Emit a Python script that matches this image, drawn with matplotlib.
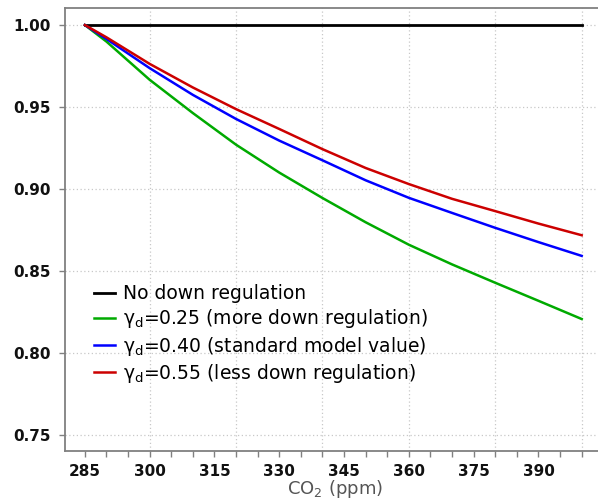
import matplotlib
matplotlib.use("Agg")
import matplotlib.pyplot as plt

# CO2 values (ppm) and the relative values
co2 = [285, 290, 300, 310, 320, 330, 340, 350, 360, 370, 380, 390, 400]
no_reg = [1.0] * len(co2)
gamma_025 = [1.0, 0.9899, 0.9666, 0.9463, 0.9270, 0.9100, 0.8945, 0.8797,
             0.8660, 0.8540, 0.8428, 0.8318, 0.8207]
gamma_040 = [1.0, 0.9915, 0.9737, 0.9574, 0.9427, 0.9295, 0.9175, 0.9053,
             0.8946, 0.8854, 0.8763, 0.8676, 0.8592]
gamma_055 = [1.0, 0.9925, 0.9763, 0.9619, 0.9487, 0.9366, 0.9243, 0.9128,
             0.9030, 0.8940, 0.8865, 0.8789, 0.8718]

labels = ["No down regulation",
          "γ$_\\mathregular{d}$=0.25 (more down regulation)",
          "γ$_\\mathregular{d}$=0.40 (standard model value)",
          "γ$_\\mathregular{d}$=0.55 (less down regulation)"]

x_ticks = [285, 300, 315, 330, 345, 360, 375, 390]
y_ticks = [0.75, 0.80, 0.85, 0.90, 0.95, 1.00]
x_grid = [300, 320, 340, 360, 380, 400]

plt.rcParams["font.family"] = ["DejaVu Sans"]

fig = plt.figure(figsize=(5.98, 5.01), dpi=100)
# right spine sits just outside the picture, as in the original
ax = fig.add_axes([65 / 598, 50 / 501, 540 / 598, 442.7 / 501])

ax.plot(co2, no_reg, color="black", lw=2.0, label=labels[0])
ax.plot(co2, gamma_025, color="#00aa00", lw=1.8, label=labels[1])
ax.plot(co2, gamma_040, color="#0000ff", lw=1.8, label=labels[2])
ax.plot(co2, gamma_055, color="#cc0000", lw=1.8, label=labels[3])

ax.set_xlim(280.4, 405.4)
ax.set_ylim(0.7402, 1.0102)

# dotted grid: horizontal at the y ticks, vertical every 20 ppm
for y in y_ticks:
    ax.axhline(y, color="#c8c8c8", lw=0.9, ls=(0, (1, 2)), zorder=0)
for x in x_grid:
    ax.axvline(x, color="#c8c8c8", lw=0.9, ls=(0, (1, 2)), zorder=0)

ax.set_xticks(x_ticks)
ax.set_xticks(range(285, 405, 5), minor=True)
ax.set_yticks(y_ticks)
ax.set_yticklabels(["%.2f" % v for v in y_ticks])
ax.tick_params(axis="both", which="both", length=4, width=1, color="#808080",
               labelsize=11)
ax.tick_params(axis="x", pad=5)
ax.tick_params(axis="y", pad=6)
for lab in ax.get_xticklabels() + ax.get_yticklabels():
    lab.set_fontweight("bold")
    lab.set_color("#111111")

for s in ax.spines.values():
    s.set_color("#808080")
    s.set_linewidth(1.3)

ax.set_xlabel("CO$_\\mathregular{2}$ (ppm)", fontsize=13, color="#555555", labelpad=0)

ax.legend(loc="upper left", bbox_to_anchor=(0.039, 0.394), frameon=False,
          fontsize=13.5, handlelength=1.12, handletextpad=0.45, labelspacing=0.23,
          borderaxespad=0)

fig.savefig("out.png", dpi=100)
